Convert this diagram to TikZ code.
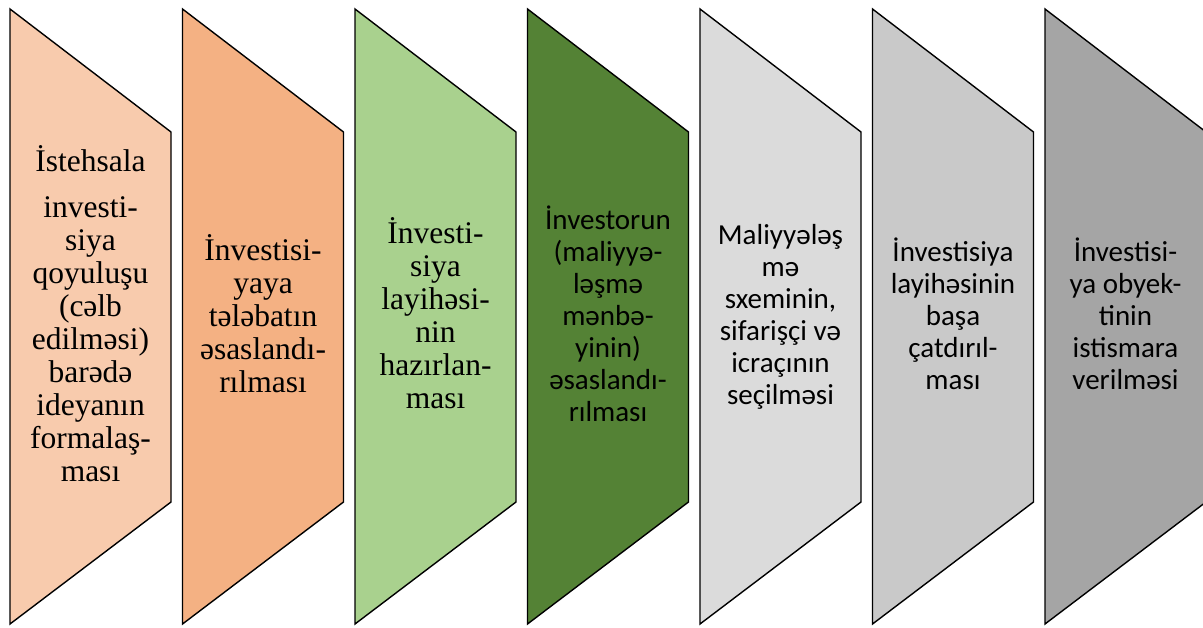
\documentclass[tikz,border=0pt]{standalone}
\usepackage{fontspec}
\setmainfont{Liberation Serif}
\newfontfamily\calfont{Carlito}
\definecolor{cA}{HTML}{F8CBAD}
\definecolor{cB}{HTML}{F4B183}
\definecolor{cC}{HTML}{A9D18E}
\definecolor{cD}{HTML}{548235}
\definecolor{cE}{HTML}{DBDBDB}
\definecolor{cF}{HTML}{C9C9C9}
\definecolor{cG}{HTML}{A5A5A5}
\tikzset{
  stage/.style={draw=black, line width=1.4pt, line join=miter},
  slbl/.style={align=center, inner sep=0pt, font=\fontsize{31.5}{33}\selectfont},
  clbl/.style={align=center, inner sep=0pt, font=\calfont\fontsize{29}{32}\selectfont},
}
\begin{document}
\begin{tikzpicture}[x=1pt,y=-1pt]
\useasboundingbox (0,0) rectangle (1203,627);
\begin{scope}
\clip (0,0) rectangle (1203,627);
\foreach \i/\c in {0/cA,1/cB,2/cC,3/cD,4/cE,5/cF,6/cG}{
  \pgfmathsetmacro{\xl}{10+172.5*\i}
  \pgfmathsetmacro{\xr}{\xl+161}
  \path[stage, fill=\c] (\xl,9) -- (\xr,132) -- (\xr,502) -- (\xl,624) -- cycle;
}
\end{scope}
\node[slbl] (t1) at (90.5,318) {\strut İstehsala\\[13pt] investi-\\ siya\\ qoyuluşu\\ (cəlb\\ edilməsi)\\ barədə\\ ideyanın\\ formalaş-\\ ması\strut};
\node[slbl] (t2) at (263,318) {\strut İnvestisi-\\ yaya\\ tələbatın\\ əsaslandı-\\ rılması\strut};
\node[slbl] (t3) at (435.5,318) {\strut İnvesti-\\ siya\\ layihəsi-\\ nin\\ hazırlan-\\ ması\strut};
\node[clbl] (t4) at (608,318) {\strut İnvestorun\\ (maliyyə-\\ ləşmə\\ mənbə-\\ yinin)\\ əsaslandı-\\ rılması\strut};
\node[clbl] (t5) at (780.5,318) {\strut Maliyyələş\\ mə\\ sxeminin,\\ sifarişçi və\\ icraçının\\ seçilməsi\strut};
\node[clbl] (t6) at (953,318) {\strut İnvestisiya\\ layihəsinin\\ başa\\ çatdırıl-\\ ması\strut};
\node[clbl] (t7) at (1125.5,318) {\strut İnvestisi-\\ ya obyek-\\ tinin\\ istismara\\ verilməsi\strut};
\end{tikzpicture}
\end{document}
